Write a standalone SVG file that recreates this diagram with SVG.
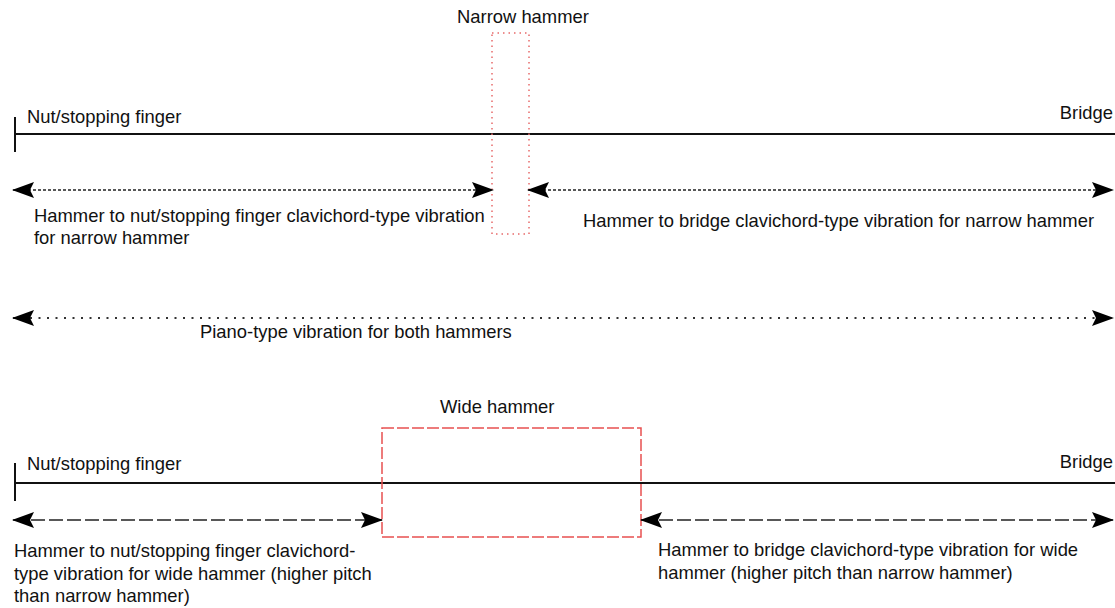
<svg xmlns="http://www.w3.org/2000/svg" width="1115" height="608" viewBox="0 0 1115 608">
<defs>
<marker id="ah" viewBox="0 0 22 16" markerWidth="22" markerHeight="16" refX="21" refY="8" orient="auto-start-reverse" markerUnits="userSpaceOnUse">
<path d="M0,0 L22,8 L0,16 L4,8 Z" fill="#000"/>
</marker>
<style>
text{font-family:"Liberation Sans",Arial,sans-serif;font-size:18.4px;fill:#111}
.str{stroke:#111;stroke-width:2;fill:none}
.short{stroke:#222;stroke-width:1.6;stroke-dasharray:3 2;fill:none;marker-start:url(#ah);marker-end:url(#ah)}
.dot{stroke:#333;stroke-width:2;stroke-dasharray:2 6.5;fill:none;marker-start:url(#ah);marker-end:url(#ah)}
.long{stroke:#222;stroke-width:1.6;stroke-dasharray:14 4;fill:none;marker-start:url(#ah);marker-end:url(#ah)}
</style>
</defs>
<rect width="1115" height="608" fill="#fff"/>
<g id="top-string">
<line class="str" x1="15" y1="134" x2="1115" y2="134"/>
<line class="str" x1="15" y1="117" x2="15" y2="152"/>
<text x="27" y="123">Nut/stopping finger</text>
<text x="1113" y="119" text-anchor="end">Bridge</text>
</g>
<g id="narrow-hammer">
<rect x="492" y="33" width="37" height="201" fill="none" stroke="#e86a6a" stroke-width="1.5" stroke-dasharray="1.5 4"/>
<text x="457" y="23">Narrow hammer</text>
</g>
<g id="bottom-string">
<line class="str" x1="15" y1="483" x2="1115" y2="483"/>
<line class="str" x1="15" y1="463" x2="15" y2="501"/>
<text x="27" y="470">Nut/stopping finger</text>
<text x="1113" y="468" text-anchor="end">Bridge</text>
</g>
<g id="wide-hammer">
<rect x="382" y="428" width="259" height="109" fill="none" stroke="#e85050" stroke-width="1.5" stroke-dasharray="12 3"/>
<text x="440" y="413">Wide hammer</text>
</g>
<g id="connectors">
<line class="short" x1="13" y1="190" x2="493" y2="190"/>
<line class="short" x1="528" y1="190" x2="1113" y2="190"/>
<line class="dot" x1="13" y1="318" x2="1113" y2="318"/>
<line class="long" x1="13" y1="520" x2="382" y2="520"/>
<line class="long" x1="641" y1="520" x2="1113" y2="520"/>
</g>
<g id="labels">
<text x="34" y="222">Hammer to nut/stopping finger clavichord-type vibration</text>
<text x="34" y="244">for narrow hammer</text>
<text x="583" y="227">Hammer to bridge clavichord-type vibration for narrow hammer</text>
<text x="200" y="338">Piano-type vibration for both hammers</text>
<text x="14" y="557">Hammer to nut/stopping finger clavichord-</text>
<text x="14" y="580">type vibration for wide hammer (higher pitch</text>
<text x="14" y="602">than narrow hammer)</text>
<text x="658" y="556">Hammer to bridge clavichord-type vibration for wide</text>
<text x="658" y="579">hammer (higher pitch than narrow hammer)</text>
</g>
</svg>
